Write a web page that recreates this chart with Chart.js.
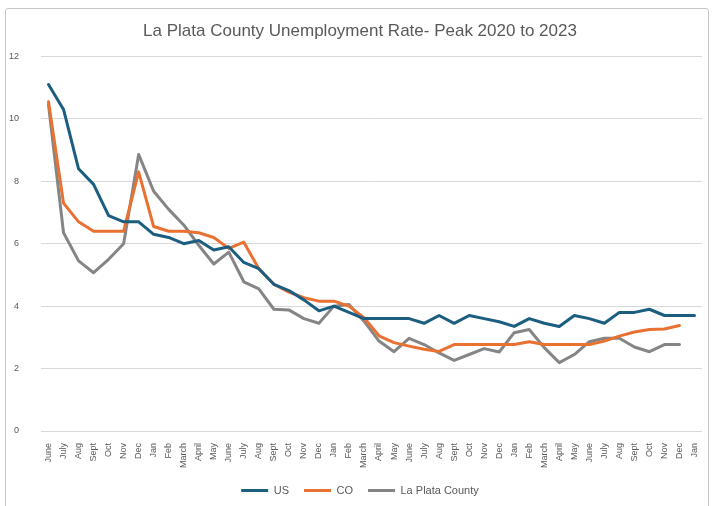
<!DOCTYPE html>
<html>
<head>
<meta charset="utf-8">
<script src="https://cdn.jsdelivr.net/npm/chart.js@4.4.1/dist/chart.umd.min.js"></script>
<style>
body{margin:0;background:#fff;}
#wrap{position:relative;width:719px;height:506px;}
#frame{position:absolute;left:5px;top:8px;width:702px;height:520px;border:1px solid #c6c6c6;border-radius:3px;pointer-events:none;}
</style>
</head>
<body>
<div id="wrap">
<canvas id="myChart" width="719" height="506"></canvas>
<div id="frame"></div>
</div>
<script>
const months = [
    'June','July','Aug','Sept','Oct','Nov','Dec',
    'Jan','Feb','March','April','May','June','July','Aug','Sept','Oct','Nov','Dec',
    'Jan','Feb','March','April','May','June','July','Aug','Sept','Oct','Nov','Dec',
    'Jan','Feb','March','April','May','June','July','Aug','Sept','Oct','Nov','Dec',
    'Jan'
];
const usRate = [11.1, 10.3, 8.4, 7.9, 6.9, 6.7, 6.7, 6.3, 6.2, 6.0, 6.1, 5.8, 5.9, 5.4, 5.2, 4.7, 4.5, 4.2, 3.85, 4.0, 3.8, 3.6,
    3.6, 3.6, 3.6, 3.45, 3.7, 3.45, 3.7, 3.6, 3.5, 3.35, 3.6, 3.45, 3.35, 3.7, 3.6, 3.45, 3.8, 3.8, 3.9, 3.7, 3.7, 3.7];
const coRate = [10.55, 7.3, 6.7, 6.4, 6.4, 6.4, 8.3, 6.55, 6.4, 6.4, 6.35, 6.2, 5.85, 6.05, 5.2, 4.7, 4.45, 4.27, 4.16, 4.16, 4.0, 3.63,
    3.05, 2.83, 2.72, 2.62, 2.55, 2.77, 2.77, 2.77, 2.77, 2.77, 2.86, 2.77, 2.77, 2.77, 2.77, 2.88, 3.04, 3.17, 3.25, 3.27, 3.38, null];
const laPlataRate = [10.45, 6.35, 5.45, 5.07, 5.5, 6.0, 8.86, 7.68, 7.1, 6.6, 5.95, 5.35, 5.73, 4.78, 4.55, 3.9, 3.88, 3.6, 3.45, 4.0, 4.05, 3.52,
    2.88, 2.54, 2.97, 2.77, 2.5, 2.26, 2.45, 2.64, 2.53, 3.15, 3.25, 2.67, 2.19, 2.45, 2.86, 2.97, 2.97, 2.69, 2.54, 2.77, 2.77, null];
const yTicks = [0, 2, 4, 6, 8, 10, 12];

const textColor = '#595959';
Chart.defaults.font.family = '"Liberation Sans", Arial, sans-serif';
Chart.defaults.color = textColor;

function series(label, values, color){
    return {
        label: label,
        data: values,
        borderColor: color,
        backgroundColor: color,
        borderWidth: 3,
        pointRadius: 0,
        tension: 0,
        borderJoinStyle: 'round',
        borderCapStyle: 'round',
        spanGaps: false
    };
}

// centre title and legend on the whole frame, not on the padded box
const centreShift = {
    id: 'centreShift',
    afterLayout: function(chart){
        [chart.titleBlock, chart.legend].forEach(function(box){
            if(box){ box.left += 9; box.right += 9; }
        });
    }
};

const ctx = document.getElementById('myChart').getContext('2d');
const myChart = new Chart(ctx, {
    type: 'line',
    data: {
        labels: months,
        datasets: [
            series('US', usRate, '#1B5E80'),
            series('CO', coRate, '#E97132'),
            series('La Plata County', laPlataRate, '#858585')
        ]
    },
    plugins: [centreShift],
    options: {
        responsive: false,
        animation: false,
        layout: { padding: { left: 0, right: 17, top: 0, bottom: 0 } },
        plugins: {
            title: {
                display: true,
                text: 'La Plata County Unemployment Rate- Peak 2020 to 2023',
                color: textColor,
                font: { size: 17, weight: 'normal' },
                padding: { top: 21, bottom: 15 }
            },
            legend: {
                position: 'bottom',
                labels: {
                    boxWidth: 27,
                    boxHeight: 3,
                    padding: 15,
                    font: { size: 11 },
                    color: textColor,
                    generateLabels: function(chart){
                        return Chart.defaults.plugins.legend.labels.generateLabels(chart).map(function(l){
                            l.lineWidth = 0;
                            return l;
                        });
                    }
                }
            },
            tooltip: { enabled: false }
        },
        scales: {
            x: {
                offset: true,
                grid: { display: false },
                border: { display: false },
                ticks: {
                    autoSkip: false,
                    maxRotation: 90,
                    minRotation: 90,
                    padding: 4,
                    font: { size: 9 },
                    color: textColor
                },
                afterFit: function(scale){ scale.height = 39; }
            },
            y: {
                min: 0,
                max: 12,
                afterBuildTicks: function(scale){
                    scale.ticks = yTicks.map(function(v){ return { value: v }; });
                },
                grid: { color: '#d9d9d9', lineWidth: 1, drawTicks: false },
                border: { display: false },
                ticks: {
                    padding: 22,
                    font: { size: 9 },
                    color: textColor
                },
                afterFit: function(scale){ scale.width = 41; }
            }
        }
    }
});
</script>
</body>
</html>
